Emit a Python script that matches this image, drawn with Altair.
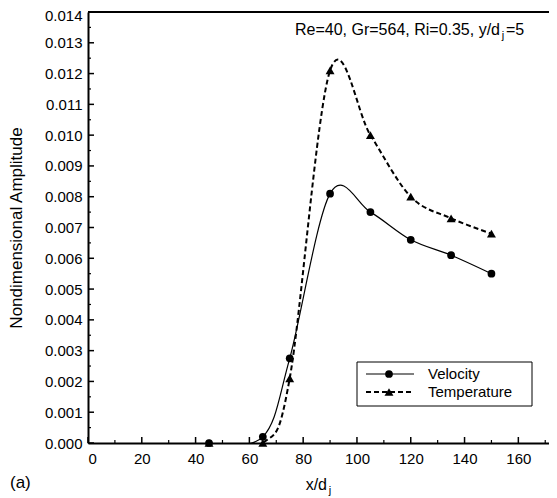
import altair as alt
import pandas as pd

# ---- data ----
x_pos = [45, 65, 75, 90, 105, 120, 135, 150]
velocity = [0.0, 0.0002, 0.00275, 0.0081, 0.0075, 0.0066, 0.0061, 0.0055]
temperature = [0.0, 0.0, 0.0021, 0.0121, 0.0100, 0.0080, 0.0073, 0.0068]

x_major = list(range(0, 161, 20))
x_minor = list(range(10, 171, 20))
y_major = [i / 1000 for i in range(15)]
y_minor = [(i + 0.5) / 1000 for i in range(14)]

W, H = 461, 431
FONT = "Liberation Sans"

vel_df = pd.DataFrame({"x": x_pos, "y": velocity})
tem_df = pd.DataFrame({"x": x_pos, "y": temperature})

xs = alt.Scale(domain=[0, 171.4], nice=False, zero=False)
ys = alt.Scale(domain=[0, 0.014], nice=False, zero=False)

x_axis = alt.Axis(values=x_major, format="d", ticks=False, tickSize=0, grid=False,
                  domainColor="black", domainWidth=2, labelFontSize=15, labelFont=FONT,
                  labelColor="black", labelPadding=8, labelOverlap=False, title=None)
y_axis = alt.Axis(values=y_major, format=".3f", ticks=False, tickSize=0, grid=False,
                  domainColor="black", domainWidth=2, labelFontSize=15, labelFont=FONT,
                  labelColor="black", labelPadding=6, labelOverlap=False,
                  labelOffset={"condition": {"test": "datum.value >= 0.0139", "value": 3}, "value": 0},
                  title="Nondimensional Amplitude", titleFont=FONT, titleFontSize=17,
                  titleFontWeight="normal", titleColor="black",
                  titleX=-72, titleY=H / 2, titleBaseline="middle", titleAlign="center",
                  titleAngle=-90)


def X(f):
    return alt.X(f, scale=xs, axis=x_axis)


def Y(f):
    return alt.Y(f, scale=ys, axis=y_axis)


vel_line = alt.Chart(vel_df).mark_line(
    interpolate="cardinal", color="black", strokeWidth=1.2, clip=True
).encode(x=X("x:Q"), y=Y("y:Q"))

tem_line = alt.Chart(tem_df).mark_line(
    interpolate="cardinal", color="black", strokeWidth=2, strokeDash=[5, 3], clip=True
).encode(x=X("x:Q"), y=Y("y:Q"))

tem_pts = alt.Chart(tem_df).mark_point(
    shape="triangle-up", filled=True, color="black", size=80, opacity=1
).encode(x=X("x:Q"), y=Y("y:Q"))

vel_pts = alt.Chart(vel_df).mark_point(
    shape="circle", filled=True, color="black", size=60, opacity=1
).encode(x=X("x:Q"), y=Y("y:Q"))

# inward ticks
xmaj = alt.Chart(pd.DataFrame({"x": x_major})).mark_rule(color="black", strokeWidth=1.5).encode(
    x=X("x:Q"), y=alt.value(H), y2=alt.value(H - 6))
xmin = alt.Chart(pd.DataFrame({"x": x_minor})).mark_rule(color="black", strokeWidth=1.2).encode(
    x=X("x:Q"), y=alt.value(H), y2=alt.value(H - 3))
ymaj = alt.Chart(pd.DataFrame({"y": y_major})).mark_rule(color="black", strokeWidth=1.5).encode(
    y=Y("y:Q"), x=alt.value(0), x2=alt.value(6))
ymin = alt.Chart(pd.DataFrame({"y": y_minor})).mark_rule(color="black", strokeWidth=1.2).encode(
    y=Y("y:Q"), x=alt.value(0), x2=alt.value(3))

one = pd.DataFrame({"a": [0]})
top_line = alt.Chart(one).mark_rule(color="black", strokeWidth=2).encode(
    x=alt.value(0), x2=alt.value(W), y=alt.value(0))

# legend
leg_box = alt.Chart(one).mark_rect(fill="white", stroke="black", strokeWidth=1).encode(
    x=alt.value(269), x2=alt.value(444), y=alt.value(350), y2=alt.value(394))
leg_l1 = alt.Chart(one).mark_rule(color="black", strokeWidth=1.2).encode(
    x=alt.value(278), x2=alt.value(326), y=alt.value(362))
leg_l2 = alt.Chart(one).mark_rule(color="black", strokeWidth=2, strokeDash=[5, 3]).encode(
    x=alt.value(278), x2=alt.value(326), y=alt.value(380))
leg_p1 = alt.Chart(one).mark_point(shape="circle", filled=True, color="black", size=60, opacity=1).encode(
    x=alt.value(301), y=alt.value(362))
leg_p2 = alt.Chart(one).mark_point(shape="triangle-up", filled=True, color="black", size=80, opacity=1).encode(
    x=alt.value(301), y=alt.value(380))
leg_t1 = alt.Chart(one).mark_text(align="left", baseline="middle", font=FONT, fontSize=15, color="black").encode(
    x=alt.value(340), y=alt.value(362), text=alt.value("Velocity"))
leg_t2 = alt.Chart(one).mark_text(align="left", baseline="middle", font=FONT, fontSize=15, color="black").encode(
    x=alt.value(340), y=alt.value(380), text=alt.value("Temperature"))

# annotation with subscript
ann_main = alt.Chart(one).mark_text(align="right", baseline="middle", font=FONT, fontSize=16, color="black").encode(
    x=alt.value(412), y=alt.value(18), text=alt.value("Re=40, Gr=564, Ri=0.35, y/d"))
ann_sub = alt.Chart(one).mark_text(align="center", baseline="middle", font=FONT, fontSize=11, color="black").encode(
    x=alt.value(415), y=alt.value(24), text=alt.value("j"))
ann_end = alt.Chart(one).mark_text(align="left", baseline="middle", font=FONT, fontSize=16, color="black").encode(
    x=alt.value(418), y=alt.value(18), text=alt.value("=5"))

# x title with subscript
xt_main = alt.Chart(one).mark_text(align="right", baseline="middle", font=FONT, fontSize=16, color="black").encode(
    x=alt.value(239), y=alt.value(473), text=alt.value("x/d"))
xt_sub = alt.Chart(one).mark_text(align="center", baseline="middle", font=FONT, fontSize=11, color="black").encode(
    x=alt.value(242), y=alt.value(479), text=alt.value("j"))

panel = alt.Chart(one).mark_text(align="left", baseline="middle", font=FONT, fontSize=17, color="black").encode(
    x=alt.value(-78), y=alt.value(471), text=alt.value("(a)"))

chart = alt.layer(
    vel_line, tem_line, tem_pts, vel_pts,
    xmaj, xmin, ymaj, ymin, top_line,
    leg_box, leg_l1, leg_l2, leg_p1, leg_p2, leg_t1, leg_t2,
    ann_main, ann_sub, ann_end, xt_main, xt_sub, panel,
).properties(
    width=W, height=H,
    autosize=alt.AutoSizeParams(type="none"),
    padding={"left": 80, "top": 4, "right": 0, "bottom": 55},
).configure_view(stroke=None).configure(background="white")

chart.save("out.html", embed_options={"renderer": "svg", "actions": False})
